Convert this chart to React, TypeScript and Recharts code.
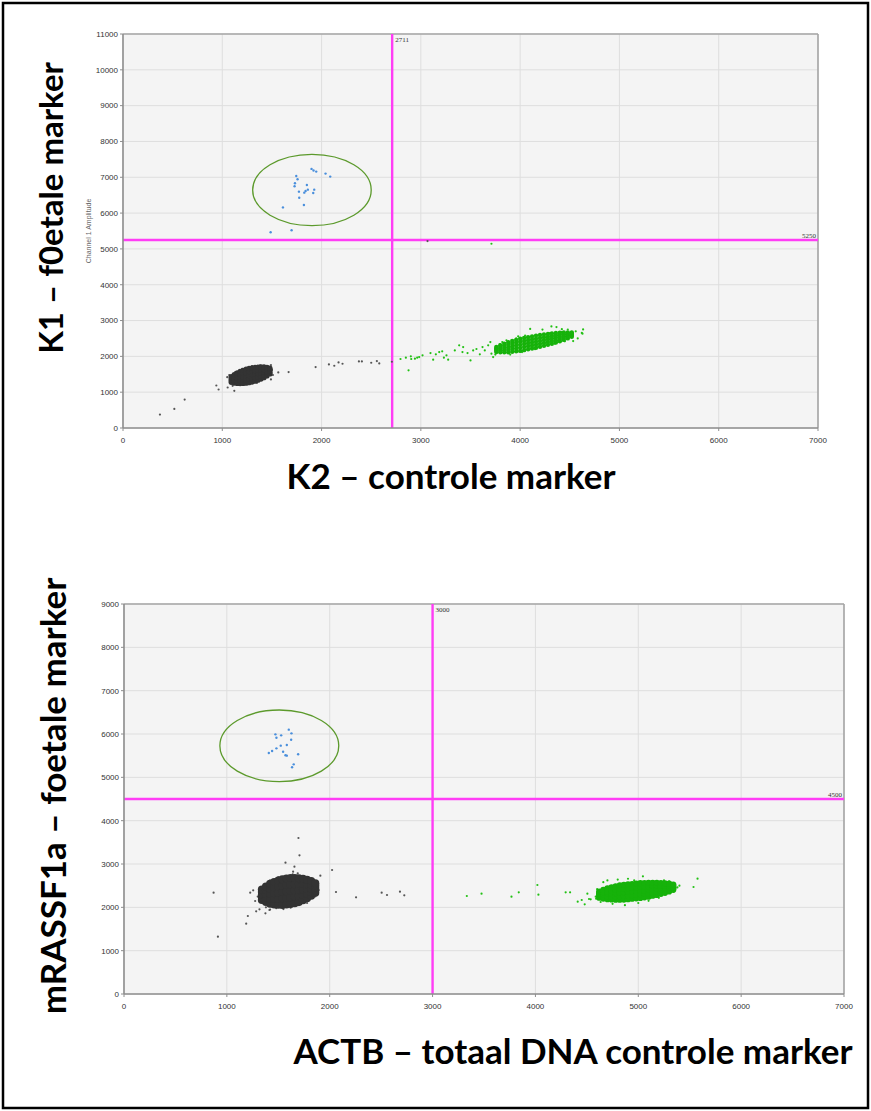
import React from 'react';
import { ScatterChart, Scatter, XAxis, YAxis, CartesianGrid, ReferenceLine, ReferenceArea } from 'recharts';

// ---------- ticks ----------
const xTicks = [0, 1000, 2000, 3000, 4000, 5000, 6000, 7000];
const topYTicks = [0, 1000, 2000, 3000, 4000, 5000, 6000, 7000, 8000, 9000, 10000, 11000];
const bottomYTicks = [0, 1000, 2000, 3000, 4000, 5000, 6000, 7000, 8000, 9000];

// ---------- thresholds ----------
const topThresholdX = 2711;
const topThresholdY = 5250;
const bottomThresholdX = 3000;
const bottomThresholdY = 4500;

// ---------- highlight ellipses (bounds) ----------
const topEllipse = { x1: 1306, x2: 2500, y1: 5650, y2: 7640 };
const bottomEllipse = { x1: 932, x2: 2088, y1: 4900, y2: 6554 };

// ---------- labels ----------
const topYLabel = 'K1 – f0etale marker';
const topXLabel = 'K2 – controle marker';
const bottomYLabel = 'mRASSF1a – foetale marker';
const bottomXLabel = 'ACTB – totaal DNA controle marker';
const topAxisTitle = 'Channel 1 Amplitude';

// ---------- TOP chart data (x = channel 2, y = channel 1) ----------
const topBlue: [number, number][] = [
  [1899, 7234], [1919, 7187], [1946, 7159], [2040, 7103], [2087, 7019], [1745, 7037],
  [1758, 6944], [1732, 6832], [1728, 6748], [1852, 6785], [1862, 6654], [1839, 6617],
  [1826, 6570], [1926, 6654], [1916, 6561], [1772, 6598], [1775, 6430], [1822, 6224],
  [1611, 6159], [1487, 5467], [1698, 5523],
];

const topGrayOutliers: [number, number][] = [
  [372, 374], [517, 533], [621, 794], [940, 1187], [963, 1075], [1054, 1131], [1121, 1037],
  [1104, 1178], [1490, 1355], [1490, 1757], [1564, 1551], [1668, 1561], [1940, 1701],
  [2074, 1776], [2128, 1738], [2171, 1832], [2211, 1794], [2376, 1860], [2406, 1860],
  [2500, 1822], [2557, 1869], [2581, 1804], [2708, 1850], [3067, 5219],
  [1100, 1250], [1130, 1560], [1200, 1650], [1350, 1260], [1420, 1380], [1500, 1620],
  [1510, 1480], [1050, 1420], [1070, 1480], [1460, 1720], [1300, 1730], [1380, 1750],
  [1160, 1200], [1250, 1250],
];

const topGrayCore: [number, number][] = [
  [1090, 1276], [1090, 1316], [1090, 1356], [1090, 1396], [1090, 1436],
  [1120, 1254], [1120, 1314], [1120, 1374], [1120, 1434], [1120, 1494],
  [1150, 1242], [1150, 1317], [1150, 1392], [1150, 1467], [1150, 1542],
  [1180, 1240], [1180, 1325], [1180, 1410], [1180, 1495], [1180, 1580],
  [1210, 1243], [1210, 1336], [1210, 1428], [1210, 1521], [1210, 1613],
  [1240, 1251], [1240, 1349], [1240, 1446], [1240, 1544], [1240, 1641],
  [1270, 1264], [1270, 1364], [1270, 1464], [1270, 1564], [1270, 1664],
  [1300, 1282], [1300, 1382], [1300, 1482], [1300, 1582], [1300, 1682],
  [1330, 1305], [1330, 1403], [1330, 1500], [1330, 1598], [1330, 1695],
  [1360, 1333], [1360, 1426], [1360, 1518], [1360, 1611], [1360, 1703],
  [1390, 1366], [1390, 1451], [1390, 1536], [1390, 1621], [1390, 1706],
  [1420, 1404], [1420, 1479], [1420, 1554], [1420, 1629], [1420, 1704],
  [1450, 1452], [1450, 1512], [1450, 1572], [1450, 1632], [1450, 1692],
  [1480, 1510], [1480, 1550], [1480, 1590], [1480, 1630], [1480, 1670],
];

const topGreenOutliers: [number, number][] = [
  [2795, 1926], [2849, 1963], [2899, 2000], [2903, 1926], [2940, 1935], [2963, 1963],
  [2983, 1981], [3017, 2028], [2876, 1609], [3097, 2093], [3124, 1907], [3151, 2056],
  [3185, 2121], [3215, 2140], [3232, 1963], [3258, 2028], [3275, 1907], [3342, 2167],
  [3386, 2307], [3426, 2260], [3419, 2121], [3470, 2093], [3500, 1888], [3527, 2167],
  [3560, 2205], [3594, 2056], [3621, 2260], [3644, 2167], [3678, 2307], [3711, 2074],
  [3728, 1981], [3762, 2205], [3795, 2335], [3836, 2167], [3862, 2447], [4315, 2837],
  [4366, 2819], [4416, 2679], [4534, 2428], [4628, 2633], [4634, 2753], [4225, 2748],
  [4101, 2766], [4527, 2579], [4621, 2654], [3711, 5144], [3700, 2400], [3750, 2050],
  [3820, 2400], [3900, 2050], [3960, 2500], [4050, 2580], [4150, 2200], [4250, 2300],
  [4350, 2350], [4450, 2420], [4480, 2750], [4560, 2700], [4580, 2500], [4020, 2120],
  [3980, 2560], [4300, 2650], [4420, 2760],
];

const topGreenCore: [number, number][] = [
  [3760, 2120], [3760, 2155], [3760, 2190], [3760, 2225], [3760, 2260],
  [3800, 2112], [3800, 2162], [3800, 2212], [3800, 2262], [3800, 2312],
  [3840, 2114], [3840, 2174], [3840, 2234], [3840, 2294], [3840, 2354],
  [3880, 2116], [3880, 2186], [3880, 2256], [3880, 2326], [3880, 2396],
  [3920, 2128], [3920, 2203], [3920, 2278], [3920, 2353], [3920, 2428],
  [3960, 2140], [3960, 2220], [3960, 2300], [3960, 2380], [3960, 2460],
  [4000, 2152], [4000, 2237], [4000, 2322], [4000, 2407], [4000, 2492],
  [4040, 2174], [4040, 2259], [4040, 2344], [4040, 2429], [4040, 2514],
  [4080, 2196], [4080, 2281], [4080, 2366], [4080, 2451], [4080, 2536],
  [4120, 2218], [4120, 2303], [4120, 2388], [4120, 2473], [4120, 2558],
  [4160, 2240], [4160, 2325], [4160, 2410], [4160, 2495], [4160, 2580],
  [4200, 2267], [4200, 2350], [4200, 2432], [4200, 2515], [4200, 2597],
  [4240, 2294], [4240, 2374], [4240, 2454], [4240, 2534], [4240, 2614],
  [4280, 2326], [4280, 2401], [4280, 2476], [4280, 2551], [4280, 2626],
  [4320, 2353], [4320, 2426], [4320, 2498], [4320, 2571], [4320, 2643],
  [4360, 2385], [4360, 2453], [4360, 2520], [4360, 2588], [4360, 2655],
  [4400, 2422], [4400, 2482], [4400, 2542], [4400, 2602], [4400, 2662],
  [4440, 2459], [4440, 2512], [4440, 2564], [4440, 2617], [4440, 2669],
  [4480, 2501], [4480, 2544], [4480, 2586], [4480, 2629], [4480, 2671],
  [4520, 2548], [4520, 2578], [4520, 2608], [4520, 2638], [4520, 2668],
];

// ---------- BOTTOM chart data (x = ACTB, y = mRASSF1a) ----------
const bottomBlue: [number, number][] = [
  [1472, 5992], [1482, 5915], [1528, 5969], [1602, 6100], [1628, 6015], [1625, 5869],
  [1583, 5746], [1524, 5731], [1482, 5669], [1440, 5608], [1408, 5562], [1547, 5592],
  [1570, 5508], [1583, 5500], [1693, 5531], [1650, 5300], [1634, 5231],
];

const bottomGrayOutliers: [number, number][] = [
  [871, 2338], [913, 1323], [1188, 1623], [1204, 1800], [1227, 2338], [1256, 2392],
  [1275, 2146], [1285, 1908], [1317, 1954], [1375, 1862], [1414, 1938], [1696, 3600],
  [1706, 3200], [1570, 3031], [1657, 2938], [1644, 2823], [1689, 2785], [1728, 2708],
  [1819, 2646], [1909, 2731], [2023, 2862], [1893, 2400], [1883, 2308], [2061, 2354],
  [2256, 2231], [2505, 2338], [2557, 2285], [2683, 2362], [2725, 2277],
  [1350, 2100], [1380, 2000], [1420, 1950], [1480, 1980], [1550, 1960], [1620, 1990],
  [1700, 2050], [1780, 2100], [1860, 2250], [1880, 2400], [1870, 2600], [1800, 2650],
  [1720, 2700], [1640, 2760], [1500, 2700], [1420, 2620], [1360, 2500], [1320, 2380],
  [1300, 2250],
];

const bottomGrayCore: [number, number][] = [
  [1340, 2171], [1340, 2231], [1340, 2291], [1340, 2351], [1340, 2411],
  [1380, 2123], [1380, 2213], [1380, 2303], [1380, 2393], [1380, 2483],
  [1420, 2085], [1420, 2200], [1420, 2315], [1420, 2430], [1420, 2545],
  [1460, 2067], [1460, 2197], [1460, 2327], [1460, 2457], [1460, 2587],
  [1500, 2059], [1500, 2199], [1500, 2339], [1500, 2479], [1500, 2619],
  [1540, 2056], [1540, 2204], [1540, 2351], [1540, 2499], [1540, 2646],
  [1580, 2063], [1580, 2213], [1580, 2363], [1580, 2513], [1580, 2663],
  [1620, 2075], [1620, 2225], [1620, 2375], [1620, 2525], [1620, 2675],
  [1660, 2097], [1660, 2242], [1660, 2387], [1660, 2532], [1660, 2677],
  [1700, 2124], [1700, 2262], [1700, 2399], [1700, 2537], [1700, 2674],
  [1740, 2161], [1740, 2286], [1740, 2411], [1740, 2536], [1740, 2661],
  [1780, 2208], [1780, 2316], [1780, 2423], [1780, 2531], [1780, 2638],
  [1820, 2265], [1820, 2350], [1820, 2435], [1820, 2520], [1820, 2605],
  [1860, 2337], [1860, 2392], [1860, 2447], [1860, 2502], [1860, 2557],
];

const bottomGreenOutliers: [number, number][] = [
  [3333, 2262], [3476, 2315], [3767, 2246], [3838, 2346], [4019, 2515], [4029, 2292],
  [4294, 2346], [4337, 2346], [4411, 2131], [4450, 2169], [4479, 2069], [4505, 2315],
  [4521, 2192], [4537, 2185], [4586, 2246], [5576, 2662], [5537, 2469], [5337, 2515],
  [4634, 2123], [4590, 2200], [4600, 2420], [4660, 2580], [4700, 2620], [4750, 2080],
  [4800, 2640], [4900, 2660], [5045, 2715], [5000, 2100], [5100, 2150], [5200, 2220],
  [5250, 2620], [5300, 2600], [5380, 2460], [5400, 2500], [4870, 2050], [4960, 2620],
];

const bottomGreenCore: [number, number][] = [
  [4620, 2222], [4620, 2257], [4620, 2292], [4620, 2327], [4620, 2362],
  [4660, 2201], [4660, 2251], [4660, 2301], [4660, 2351], [4660, 2401],
  [4700, 2186], [4700, 2249], [4700, 2311], [4700, 2374], [4700, 2436],
  [4740, 2181], [4740, 2251], [4740, 2321], [4740, 2391], [4740, 2461],
  [4780, 2175], [4780, 2253], [4780, 2330], [4780, 2408], [4780, 2485],
  [4820, 2175], [4820, 2258], [4820, 2340], [4820, 2423], [4820, 2505],
  [4860, 2179], [4860, 2264], [4860, 2349], [4860, 2434], [4860, 2519],
  [4900, 2189], [4900, 2274], [4900, 2359], [4900, 2444], [4900, 2529],
  [4940, 2199], [4940, 2284], [4940, 2369], [4940, 2454], [4940, 2539],
  [4980, 2208], [4980, 2293], [4980, 2378], [4980, 2463], [4980, 2548],
  [5020, 2218], [5020, 2303], [5020, 2388], [5020, 2473], [5020, 2558],
  [5060, 2232], [5060, 2315], [5060, 2397], [5060, 2480], [5060, 2562],
  [5100, 2247], [5100, 2327], [5100, 2407], [5100, 2487], [5100, 2567],
  [5140, 2267], [5140, 2342], [5140, 2417], [5140, 2492], [5140, 2567],
  [5180, 2286], [5180, 2356], [5180, 2426], [5180, 2496], [5180, 2566],
  [5220, 2311], [5220, 2374], [5220, 2436], [5220, 2499], [5220, 2561],
  [5260, 2335], [5260, 2390], [5260, 2445], [5260, 2500], [5260, 2555],
  [5300, 2365], [5300, 2410], [5300, 2455], [5300, 2500], [5300, 2545],
  [5340, 2405], [5340, 2435], [5340, 2465], [5340, 2495], [5340, 2525],
];

// ---------- styling ----------
const MAGENTA = '#ff3df5';
const BLUE = '#4a8fdc';
const GREEN = '#22c114';
const GREEN_CORE = '#16b20a';
const GRAY = '#555555';
const GRAY_CORE = '#333333';
const ELLIPSE = '#5c9a2c';
const TICK_FONT = { fontSize: 8, fill: '#333', fontFamily: 'Liberation Sans, Arial, sans-serif' };

const toPts = (arr: [number, number][]) => arr.map(([x, y]) => ({ x, y }));

const dot = (r: number, fill: string, opacity = 1) => (p: any) => (
  <circle cx={p.cx} cy={p.cy} r={r} fill={fill} fillOpacity={opacity} />
);

const ellipseShape = (p: any) => (
  <ellipse
    cx={p.x + p.width / 2}
    cy={p.y + p.height / 2}
    rx={Math.abs(p.width) / 2}
    ry={Math.abs(p.height) / 2}
    fill="none"
    stroke={ELLIPSE}
    strokeWidth={1.3}
  />
);

type PanelProps = {
  top: number;
  height: number;
  margin: { top: number; right: number; left: number; bottom: number };
  yTicks: number[];
  yMax: number;
  thrX: number;
  thrY: number;
  ellipse: { x1: number; x2: number; y1: number; y2: number };
  blue: [number, number][];
  grayOut: [number, number][];
  grayCore: [number, number][];
  greenOut: [number, number][];
  greenCore: [number, number][];
  grayR: number;
  greenR: number;
  axisTitle?: string;
};

function Panel(props: PanelProps) {
  const { top, height, margin, yTicks, yMax, thrX, thrY, ellipse } = props;
  return (
    <div style={{ position: 'absolute', left: 0, top }}>
      <ScatterChart width={871} height={height} margin={margin}>
        <CartesianGrid fill="#f4f4f4" stroke="#dedede" strokeWidth={1} />
        <XAxis
          type="number"
          dataKey="x"
          domain={[0, 7000]}
          ticks={xTicks}
          interval={0}
          height={20}
          tick={TICK_FONT}
          tickSize={3}
          tickMargin={6}
          axisLine={{ stroke: '#8e8e8e', strokeWidth: 1.6 }}
          tickLine={{ stroke: '#8e8e8e' }}
          allowDataOverflow
        />
        <YAxis
          type="number"
          dataKey="y"
          domain={[0, yMax]}
          ticks={yTicks}
          interval={0}
          width={40}
          tick={TICK_FONT}
          tickSize={3}
          tickMargin={2}
          axisLine={{ stroke: '#8e8e8e', strokeWidth: 1.6 }}
          tickLine={{ stroke: '#8e8e8e' }}
          allowDataOverflow
          label={
            props.axisTitle
              ? {
                  value: props.axisTitle,
                  angle: -90,
                  position: 'insideLeft',
                  offset: 6,
                  style: { fontSize: 7, fill: '#666', fontFamily: 'Liberation Sans, Arial, sans-serif', textAnchor: 'middle' },
                }
              : undefined
          }
        />
        <ReferenceLine y={yMax} stroke="#a6a6a6" strokeWidth={1.6} />
        <ReferenceLine x={7000} stroke="#a6a6a6" strokeWidth={1.6} />
        <Scatter data={toPts(props.grayOut)} shape={dot(1.1, GRAY)} isAnimationActive={false} />
        <Scatter data={toPts(props.grayCore)} shape={dot(props.grayR, GRAY_CORE)} isAnimationActive={false} />
        <Scatter data={toPts(props.greenOut)} shape={dot(1.1, GREEN)} isAnimationActive={false} />
        <Scatter data={toPts(props.greenCore)} shape={dot(props.greenR, GREEN_CORE)} isAnimationActive={false} />
        <Scatter data={toPts(props.blue)} shape={dot(1.2, BLUE)} isAnimationActive={false} />
        <ReferenceArea
          x1={ellipse.x1}
          x2={ellipse.x2}
          y1={ellipse.y1}
          y2={ellipse.y2}
          shape={ellipseShape}
        />
        <ReferenceLine
          x={thrX}
          stroke={MAGENTA}
          strokeWidth={2.4}
          label={{ value: String(thrX), position: 'insideTopLeft', offset: 3, fontSize: 7, fill: '#333' }}
        />
        <ReferenceLine
          y={thrY}
          stroke={MAGENTA}
          strokeWidth={2.4}
          label={{ value: String(thrY), position: 'insideBottomRight', offset: 2, fontSize: 7, fill: '#333' }}
        />
      </ScatterChart>
    </div>
  );
}

const bigFont = { fontFamily: 'Lato, "Open Sans", sans-serif', fontWeight: 700, fill: '#000' } as const;

export default function App() {
  return (
    <div style={{ position: 'absolute', left: 0, top: 0, width: 871, height: 1111, background: '#fff', overflow: 'hidden' }}>
      <Panel
        top={0}
        height={460}
        margin={{ top: 34, right: 53, left: 83, bottom: 12 }}
        yTicks={topYTicks}
        yMax={11000}
        thrX={topThresholdX}
        thrY={topThresholdY}
        ellipse={topEllipse}
        blue={topBlue}
        grayOut={topGrayOutliers}
        grayCore={topGrayCore}
        greenOut={topGreenOutliers}
        greenCore={topGreenCore}
        grayR={2.6}
        greenR={2.2}
        axisTitle={topAxisTitle}
      />
      <Panel
        top={560}
        height={470}
        margin={{ top: 44, right: 27, left: 84, bottom: 16 }}
        yTicks={bottomYTicks}
        yMax={9000}
        thrX={bottomThresholdX}
        thrY={bottomThresholdY}
        ellipse={bottomEllipse}
        blue={bottomBlue}
        grayOut={bottomGrayOutliers}
        grayCore={bottomGrayCore}
        greenOut={bottomGreenOutliers}
        greenCore={bottomGreenCore}
        grayR={4}
        greenR={3.1}
      />
      <svg width={871} height={1111} style={{ position: 'absolute', left: 0, top: 0, pointerEvents: 'none' }}>
        <rect x={3} y={3} width={865} height={1105} fill="none" stroke="#000" strokeWidth={2.5} />
        <text transform="translate(63,208) rotate(-90)" textAnchor="middle" style={{ ...bigFont, fontSize: 33 }}>{topYLabel}</text>
        <text transform="translate(66,796) rotate(-90)" textAnchor="middle" style={{ ...bigFont, fontSize: 35 }}>{bottomYLabel}</text>
        <text x={451} y={489} textAnchor="middle" style={{ ...bigFont, fontSize: 35 }}>{topXLabel}</text>
        <text x={573} y={1064} textAnchor="middle" style={{ ...bigFont, fontSize: 35 }}>{bottomXLabel}</text>
      </svg>
    </div>
  );
}
